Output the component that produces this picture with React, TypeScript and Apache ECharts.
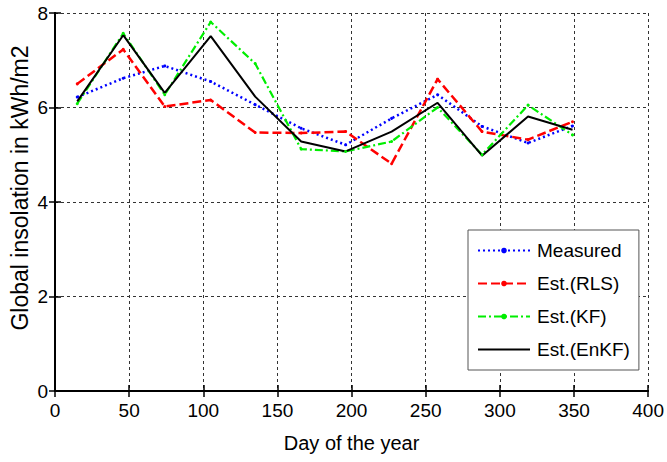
import React, { useEffect, useRef } from "react";
import * as echarts from "echarts";

const days = [15, 46, 74, 105, 135, 166, 196, 227, 258, 288, 319, 349];
const measured = [6.22, 6.62, 6.88, 6.55, 6.06, 5.56, 5.21, 5.77, 6.27, 5.6, 5.25, 5.61];
const estRLS = [6.5, 7.23, 6.02, 6.16, 5.47, 5.46, 5.49, 4.81, 6.6, 5.49, 5.32, 5.7];
const estKF = [6.08, 7.57, 6.27, 7.81, 6.93, 5.12, 5.07, 5.28, 6.0, 5.0, 6.05, 5.42];
const estEnKF = [6.13, 7.53, 6.31, 7.51, 6.23, 5.28, 5.07, 5.49, 6.1, 4.98, 5.81, 5.53];

const seriesNames = ["Measured", "Est.(RLS)", "Est.(KF)", "Est.(EnKF)"];
const xTitle = "Day of the year";
const yTitle = "Global insolation in kWh/m2";

const FONT = "'Liberation Sans', Arial, sans-serif";

function pairs(ys: number[]) {
  return days.map((d, i) => [d, ys[i]]);
}

export default function App() {
  const ref = useRef<HTMLDivElement>(null);
  useEffect(() => {
    if (!ref.current) return;
    const chart = echarts.init(ref.current, null, { renderer: "svg" });
    const axisLine = { show: true, lineStyle: { color: "#000", width: 2 } };
    const tick = { show: true, inside: true, length: 6, lineStyle: { color: "#000", width: 1.5 } };
    const grid = { show: true, lineStyle: { color: "#333", width: 1, type: [3, 3] } };
    chart.setOption({
      animation: false,
      backgroundColor: "#fff",
      grid: { left: 55, right: 18, top: 13, bottom: 71, containLabel: false },
      xAxis: [
        {
          type: "value",
          min: 0,
          max: 400,
          interval: 50,
          position: "bottom",
          axisLine,
          axisTick: tick,
          splitLine: grid,
          axisLabel: { color: "#000", fontSize: 19, fontFamily: FONT, margin: 10 },
          name: xTitle,
          nameLocation: "middle",
          nameGap: 42,
          nameTextStyle: { color: "#000", fontSize: 20, fontFamily: FONT },
        },
        {
          type: "value",
          min: 0,
          max: 400,
          interval: 50,
          position: "top",
          axisLine,
          axisTick: tick,
          splitLine: { show: false },
          axisLabel: { show: false },
        },
      ],
      yAxis: [
        {
          type: "value",
          min: 0,
          max: 8,
          interval: 2,
          position: "left",
          axisLine,
          axisTick: tick,
          splitLine: grid,
          axisLabel: { color: "#000", fontSize: 19, fontFamily: FONT, margin: 7 },
        },
        {
          type: "value",
          min: 0,
          max: 8,
          interval: 2,
          position: "right",
          axisLine,
          axisTick: tick,
          splitLine: { show: false },
          axisLabel: { show: false },
        },
      ],
      legend: {
        orient: "vertical",
        left: 468,
        top: 230,
        padding: [10, 9, 10, 9],
        itemGap: 12,
        itemWidth: 52,
        itemHeight: 7,
        backgroundColor: "#fff",
        borderColor: "#555",
        borderWidth: 1,
        borderRadius: 0,
        textStyle: { color: "#000", fontSize: 19, fontFamily: FONT, lineHeight: 21, padding: [0, 0, 0, 2] },
        data: [
          { name: seriesNames[0] },
          { name: seriesNames[1] },
          { name: seriesNames[2] },
          { name: seriesNames[3], itemStyle: { opacity: 0 } },
        ],
      },
      graphic: [
        {
          type: "text",
          x: 20,
          y: 188,
          rotation: Math.PI / 2,
          style: {
            text: yTitle,
            fontSize: 23,
            fontFamily: FONT,
            fill: "#000",
            align: "center",
            verticalAlign: "middle",
          },
        },
      ],
      series: [
        {
          name: seriesNames[0],
          type: "line",
          data: pairs(measured),
          symbol: "circle",
          symbolSize: 3,
          itemStyle: { color: "#0000ff" },
          lineStyle: { color: "#0000ff", width: 2.5, type: [2, 3] },
        },
        {
          name: seriesNames[1],
          type: "line",
          data: pairs(estRLS),
          symbol: "circle",
          symbolSize: 3,
          itemStyle: { color: "#ff0000" },
          lineStyle: { color: "#ff0000", width: 2.5, type: [9, 4] },
        },
        {
          name: seriesNames[2],
          type: "line",
          data: pairs(estKF),
          symbol: "circle",
          symbolSize: 3,
          itemStyle: { color: "#00ee00" },
          lineStyle: { color: "#00ee00", width: 2.2, type: [8, 3, 2, 3] },
        },
        {
          name: seriesNames[3],
          type: "line",
          data: pairs(estEnKF),
          symbol: "none",
          itemStyle: { color: "#000" },
          lineStyle: { color: "#000", width: 2 },
        },
      ],
    });
    return () => chart.dispose();
  }, []);
  return (
    <div
      ref={ref}
      style={{ position: "fixed", left: 0, top: 0, width: 667, height: 462, background: "#fff" }}
    />
  );
}
